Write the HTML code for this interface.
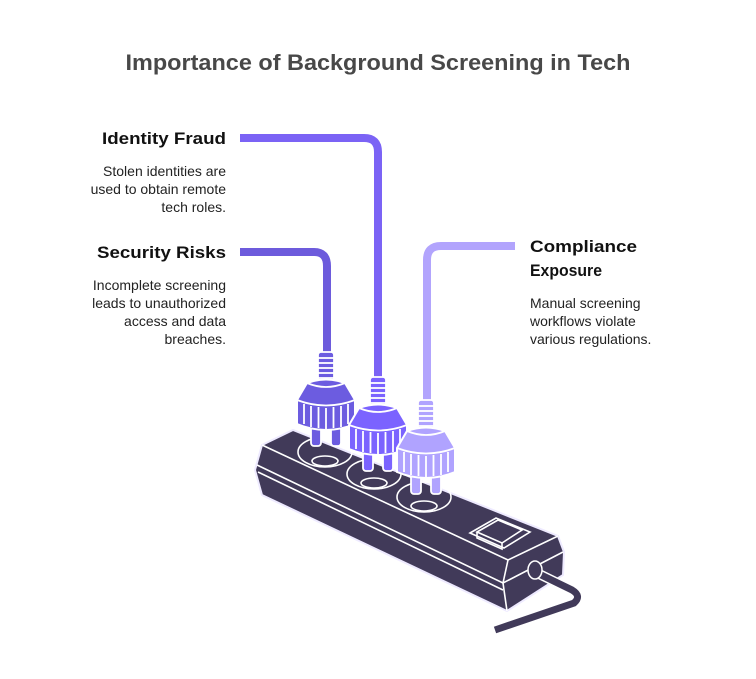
<!DOCTYPE html>
<html><head><meta charset="utf-8"><style>
html,body{margin:0;padding:0;background:#fff;}
svg{display:block;}
text{font-family:"Liberation Sans",Arial,sans-serif;}
</style></head><body>
<svg width="756" height="679" viewBox="0 0 756 679" xmlns="http://www.w3.org/2000/svg">
<defs>
<g id="plug">
  <!-- prongs -->
  <rect x="-15" y="66" width="10" height="28" rx="3" stroke="#fff" stroke-width="1.8"/>
  <rect x="5" y="66" width="10" height="28" rx="3" stroke="#fff" stroke-width="1.8"/>
  <!-- spring -->
  <rect x="-8" y="0" width="16" height="32" rx="3" stroke="#fff" stroke-width="1.8"/>
  <g stroke="#fff" stroke-width="1.8">
    <line x1="-8" y1="6" x2="8" y2="6"/><line x1="-8" y1="11" x2="8" y2="11"/>
    <line x1="-8" y1="16" x2="8" y2="16"/><line x1="-8" y1="21" x2="8" y2="21"/>
    <line x1="-8" y1="26" x2="8" y2="26"/>
  </g>
  <!-- head -->
  <path d="M-19 31 Q0 24 19 31 L29 48 L29 72 Q0 84 -29 72 L-29 48 Z" stroke="#fff" stroke-width="2"/>
  <path d="M-19 31 Q0 39 19 31" fill="none" stroke="#fff" stroke-width="1.8"/>
  <path d="M-29 48 Q0 59 29 48" fill="none" stroke="#fff" stroke-width="1.8"/>
  <g stroke="#fff" stroke-width="1.8">
    <line x1="-22" y1="52" x2="-22" y2="72"/><line x1="-15" y1="54" x2="-15" y2="75"/>
    <line x1="-7.5" y1="55" x2="-7.5" y2="76"/><line x1="0" y1="56" x2="0" y2="77"/>
    <line x1="7.5" y1="55" x2="7.5" y2="76"/><line x1="15" y1="54" x2="15" y2="75"/>
    <line x1="22" y1="52" x2="22" y2="72"/>
  </g>
</g>
</defs>

<text x="378" y="70" font-size="22" font-weight="bold" fill="#484848" text-anchor="middle" textLength="505" lengthAdjust="spacingAndGlyphs">Importance of Background Screening in Tech</text>

<text x="226" y="144" font-size="17" font-weight="bold" fill="#111" text-anchor="end" textLength="124" lengthAdjust="spacingAndGlyphs">Identity Fraud</text>
<g font-size="14" fill="#222" text-anchor="end">
<text x="226" y="176">Stolen identities are</text>
<text x="226" y="194">used to obtain remote</text>
<text x="226" y="212">tech roles.</text>
</g>
<text x="226" y="258" font-size="17" font-weight="bold" fill="#111" text-anchor="end" textLength="129" lengthAdjust="spacingAndGlyphs">Security Risks</text>
<g font-size="14" fill="#222" text-anchor="end">
<text x="226" y="290">Incomplete screening</text>
<text x="226" y="308">leads to unauthorized</text>
<text x="226" y="326">access and data</text>
<text x="226" y="344">breaches.</text>
</g>
<text x="530" y="252" font-size="17" font-weight="bold" fill="#111" textLength="107" lengthAdjust="spacingAndGlyphs">Compliance</text>
<text x="530" y="276" font-size="17" font-weight="bold" fill="#111" textLength="72" lengthAdjust="spacingAndGlyphs">Exposure</text>
<g font-size="14" fill="#222">
<text x="530" y="308">Manual screening</text>
<text x="530" y="326">workflows violate</text>
<text x="530" y="344">various regulations.</text>
</g>

<!-- cords -->
<path d="M240 138 H364 Q378 138 378 152 V385" fill="none" stroke="#7b63f5" stroke-width="8"/>
<path d="M240 252 H314 Q327 252 327 266 V360" fill="none" stroke="#6d5bdc" stroke-width="8"/>
<path d="M515 246 H441 Q427 246 427 260 V405" fill="none" stroke="#b2a4fd" stroke-width="8"/>

<!-- power strip body -->
<path d="M262 445 L293 430 L558 536 L564 552 L563 575 L507 611 L262 495 L255 470 Z" fill="#413a59" stroke="#eeeaff" stroke-width="2"/>
<g fill="none" stroke="#fff" stroke-width="1.6">
  <path d="M262 445 L508 560 L558 536"/>
  <path d="M257 465 L503 583 L563 552"/>
  <path d="M258 472 L503 590"/>
  <path d="M508 560 L503 583 L507 611"/>
  <ellipse cx="325" cy="452" rx="27" ry="15"/>
  <ellipse cx="325" cy="461" rx="13" ry="5"/>
  <ellipse cx="374" cy="474" rx="27" ry="15"/>
  <ellipse cx="374" cy="483" rx="13" ry="5"/>
  <ellipse cx="424" cy="497" rx="27" ry="15"/>
  <ellipse cx="424" cy="506" rx="13" ry="5"/>
  <path d="M470 533 L496 518 L530 532 L504 548 Z"/>
  <path d="M477 532 L498 520 L522 530 L502 543 Z"/>
  <path d="M477 532 L477 538 L502 549 L502 543"/>
</g>
<!-- cable -->
<path d="M535 572 L572 590 Q582 596 574 603 L500 628" fill="none" stroke="#fff" stroke-width="10"/>
<path d="M535 572 L572 590 Q582 596 574 603 L495 630" fill="none" stroke="#413a59" stroke-width="7"/>
<ellipse cx="535" cy="570" rx="7" ry="9" fill="#413a59" stroke="#fff" stroke-width="1.5"/>

<!-- plugs -->
<use href="#plug" x="326" y="352" fill="#6c5ce0"/>
<use href="#plug" x="378" y="377" fill="#7b63ff"/>
<use href="#plug" x="426" y="400" fill="#b0a3ff"/>
</svg>
</body></html>
